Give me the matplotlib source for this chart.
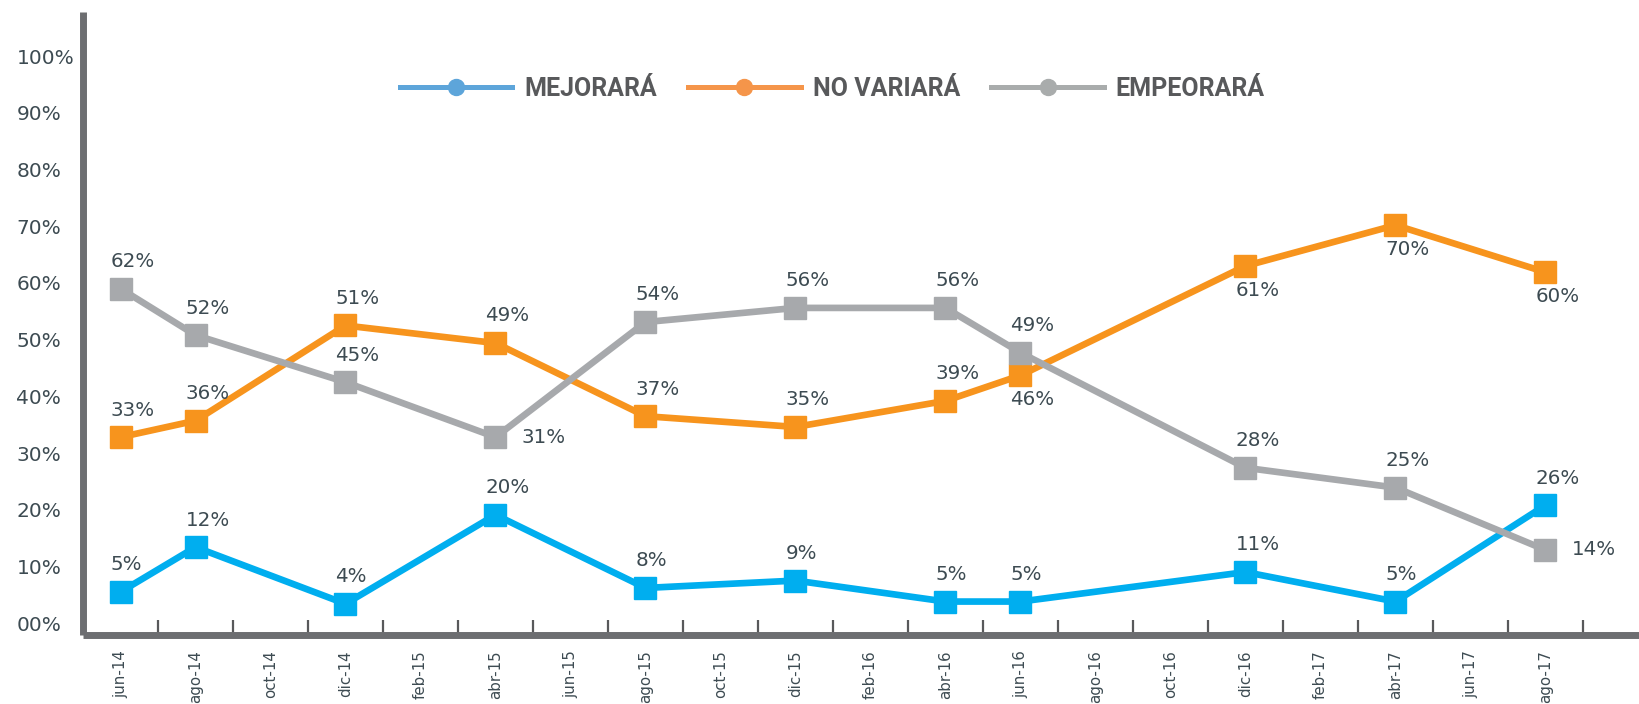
import matplotlib
matplotlib.use("Agg")
import matplotlib.pyplot as plt
from matplotlib.lines import Line2D

plt.rcParams["font.family"] = ["DejaVu Sans"]

# ---- data ----
months = ["jun-14", "ago-14", "oct-14", "dic-14", "feb-15", "abr-15", "jun-15",
          "ago-15", "oct-15", "dic-15", "feb-16", "abr-16", "jun-16", "ago-16",
          "oct-16", "dic-16", "feb-17", "abr-17", "jun-17", "ago-17"]
survey_months = ["jun-14", "ago-14", "dic-14", "abr-15", "ago-15", "dic-15",
                 "abr-16", "jun-16", "dic-16", "abr-17", "ago-17"]

series_names = ["MEJORARÁ", "NO VARIARÁ", "EMPEORARÁ"]
# plotted heights (as drawn in the chart)
mejorara = [5.5, 13.4, 3.4, 19.1, 6.2, 7.5, 3.8, 3.8, 9.0, 3.8, 20.8]
no_variara = [32.8, 35.7, 52.5, 49.4, 36.5, 34.6, 39.2, 43.7, 63.0, 70.2, 61.9]
empeorara = [59.0, 50.8, 42.5, 32.8, 53.1, 55.6, 55.6, 47.7, 27.4, 23.9, 12.9]
# printed data labels
mejorara_lbl = [5, 12, 4, 20, 8, 9, 5, 5, 11, 5, 26]
no_variara_lbl = [33, 36, 51, 49, 37, 35, 39, 46, 61, 70, 60]
empeorara_lbl = [62, 52, 45, 31, 54, 56, 56, 49, 28, 25, 14]
# label placement: a = above, b = below, r = right
mejorara_pos = ["a"] * 11
no_variara_pos = ["a", "a", "a", "a", "a", "a", "a", "b", "b", "b", "b"]
empeorara_pos = ["a", "a", "a", "r", "a", "a", "a", "a", "a", "a", "r"]

y_ticks = [0, 10, 20, 30, 40, 50, 60, 70, 80, 90, 100]
y_labels = ["00%", "10%", "20%", "30%", "40%", "50%", "60%", "70%", "80%", "90%", "100%"]

line_colors = ["#00AEEF", "#F7941D", "#A7A9AC"]
legend_colors = ["#5DA5DA", "#F5954A", "#A9ACAC"]
text_color = "#3D4B52"

# ---- figure ----
fig = plt.figure(figsize=(16.4, 7.04), dpi=100)
ax = fig.add_axes([83 / 1640, 1 - 635 / 704, 1 - 83 / 1640, (635 - 12) / 704])

xpos = [months.index(m) for m in survey_months]
data = [mejorara, no_variara, empeorara]
labels = [mejorara_lbl, no_variara_lbl, empeorara_lbl]
positions = [mejorara_pos, no_variara_pos, empeorara_pos]

for vals, lbls, poss, col in zip(data, labels, positions, line_colors):
    ax.plot(xpos, vals, color=col, lw=4.8, marker="s", ms=15.5,
            solid_joinstyle="miter", zorder=3)
    for x, v, l, p in zip(xpos, vals, lbls, poss):
        if p == "a":
            off = (-7.2, 19.5)
        elif p == "b":
            off = (-7.2, -17.5)
        else:
            off = (19.0, 0)
        ax.annotate(f"{l}%", (x, v), xytext=off, textcoords="offset points",
                    ha="left", va="center", fontsize=14.3, color=text_color,
                    family="DejaVu Sans", zorder=5)

ax.set_xlim(-0.5, 20.26)
ax.set_ylim(-2.1, 107.8)

# x axis: ticks between categories, labels at category centres
ax.set_xticks([k + 0.5 for k in range(len(months))])
ax.set_xticklabels([])
ax.set_xticks(range(len(months)), minor=True)
ax.set_xticklabels(months, minor=True, rotation=90, fontsize=10.8, color=text_color,
                   va="top", ha="center", family="DejaVu Sans")
ax.tick_params(axis="x", which="major", direction="in", length=11, width=1.6,
               color="#58595B")
ax.tick_params(axis="x", which="minor", length=0, pad=11)

ax.set_yticks(y_ticks)
ax.set_yticklabels(y_labels, fontsize=14.5, color=text_color, ha="left",
                   family="DejaVu Sans")
ax.tick_params(axis="y", length=0, pad=48)

for s in ["top", "right"]:
    ax.spines[s].set_visible(False)
for s in ["left", "bottom"]:
    ax.spines[s].set_color("#6D6E71")
    ax.spines[s].set_linewidth(5)
    ax.spines[s].set_capstyle("butt")

handles = [Line2D([0], [0], color=c, lw=3.6, marker="o", ms=11.5) for c in legend_colors]
fig.legend(handles, series_names, loc="center", bbox_to_anchor=(0.5075, 1 - 89 / 704),
           ncol=3, frameon=False, handlelength=4.5, handletextpad=0.48,
           columnspacing=1.25,
           prop={"family": ["Roboto", "DejaVu Sans"], "weight": "bold", "size": 18},
           labelcolor="#58595B")

fig.savefig("out.png", dpi=100)
